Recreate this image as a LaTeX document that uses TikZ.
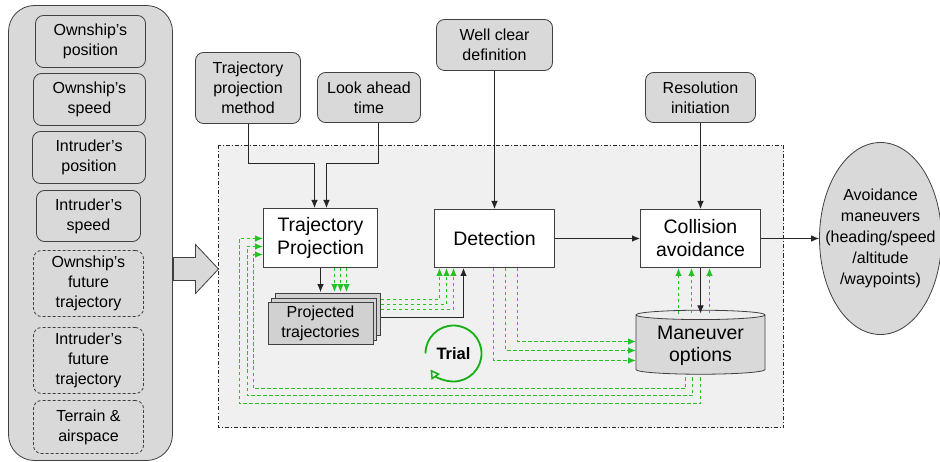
\documentclass[tikz,border=0pt]{standalone}
\usepackage{fontspec}
\setmainfont{Liberation Sans}
\usetikzlibrary{arrows.meta,shapes.geometric,shadows,calc}
\definecolor{boxgray}{RGB}{217,217,217}
\definecolor{areagray}{RGB}{240,240,240}
\definecolor{fbgreen}{RGB}{35,195,35}
\definecolor{loopgreen}{RGB}{20,175,20}
\tikzstyle{panel} = [draw=black!75, fill=boxgray, rounded corners=26pt, line width=0.8pt]
\tikzstyle{param} = [draw=black!75, fill=boxgray, rounded corners=8pt, line width=0.8pt, align=center, inner sep=1pt, font=\fontsize{16}{20}\selectfont]
\tikzstyle{future} = [param, dash pattern=on 3pt off 2pt]
\tikzstyle{block} = [draw=black!75, fill=white, line width=1pt, align=center, font=\fontsize{19.5}{23}\selectfont]
\tikzstyle{stack} = [draw=black!75, fill=black!18, line width=0.8pt, align=center, font=\fontsize{16}{20}\selectfont, double copy shadow={shadow xshift=3.5pt, shadow yshift=4.5pt}]
\tikzstyle{database} = [cylinder, shape border rotate=90, aspect=0.1, draw=black!75, line width=0.8pt, cylinder uses custom fill, cylinder body fill=boxgray, cylinder end fill=black!7, align=center, font=\fontsize{19.5}{22}\selectfont]
\tikzstyle{flow} = [-{Latex[length=8pt,width=6.5pt]}, draw=black!85, line width=0.8pt]
\tikzstyle{feedback} = [-{Latex[length=8pt,width=6.5pt]}, draw=fbgreen, line width=1pt, dash pattern=on 3.5pt off 2.5pt]

\begin{document}
\begin{tikzpicture}[x=1pt,y=-1pt]
\useasboundingbox (-0.5,-0.5) rectangle (939.5,461.5);

% inputs on the left
\node[panel, minimum width=164pt, minimum height=455pt] (inputs) at (90,232.5) {};
\node[param, minimum width=110pt, minimum height=52pt] (ownpos) at (90,41) {Ownship’s\\position};
\node[param, minimum width=112pt, minimum height=52pt] (ownspd) at (89,99) {Ownship’s\\speed};
\node[param, minimum width=113pt, minimum height=52pt] (intpos) at (88.5,157) {Intruder’s\\position};
\node[param, minimum width=104pt, minimum height=51pt] (intspd) at (88,215.5) {Intruder’s\\speed};
\node[future, minimum width=110pt, minimum height=66pt] (ownfut) at (88,283) {Ownship’s\\future\\trajectory};
\node[future, minimum width=110pt, minimum height=66pt] (intfut) at (88,360) {Intruder’s\\future\\trajectory};
\node[future, minimum width=110pt, minimum height=53pt] (terrain) at (88,426.5) {Terrain \&\\airspace};

\draw[draw=black!75, fill=boxgray, line width=0.8pt] (173,257) -- (195,257) -- (195,244) -- (218,268.5) -- (195,293) -- (195,280) -- (173,280) -- cycle;

% the detect and avoid loop
\draw[fill=areagray, draw=black!85, line width=0.8pt, dash pattern=on 4pt off 2pt on 1pt off 2pt] (218,145) rectangle (783,427);

\node[param, minimum width=105pt, minimum height=71pt] (tpm) at (247.5,87.5) {Trajectory\\projection\\method};
\node[param, minimum width=103pt, minimum height=50pt] (lat) at (368.5,97) {Look ahead\\time};
\node[param, minimum width=116pt, minimum height=51pt] (wcd) at (494,44.5) {Well clear\\definition};
\node[param, minimum width=110pt, minimum height=50pt] (resinit) at (700,97) {Resolution\\initiation};

\node[block, minimum width=114pt, minimum height=59pt] (tproj) at (320,237.5) {Trajectory\\Projection};
\node[block, minimum width=120pt, minimum height=58pt] (detect) at (494,238) {Detection};
\node[block, minimum width=120pt, minimum height=58pt] (collav) at (700,238) {Collision\\avoidance};
\node[stack, minimum width=105pt, minimum height=42pt] (proj) at (320,323) {Projected\\trajectories};
\node[database, minimum width=129pt, minimum height=64pt] (man) at (700,345) {Maneuver\\options};
\node[ellipse, draw=black!75, fill=boxgray, line width=0.8pt, minimum width=122pt, minimum height=192pt, inner xsep=-14pt, inner ysep=0pt, align=center, font=\fontsize{16}{21}\selectfont] (avoid) at (880,238) {Avoidance\\maneuvers\\(heading/speed\\/altitude\\/waypoints)};

\node[font=\fontsize{16.5}{20}\selectfont\bfseries] (trial) at (453,353) {Trial};
\draw[loopgreen, line width=1.8pt, -{Triangle[open,length=9pt,width=10pt,line width=1.5pt]}] ($(trial)+(180:28)$) arc[start angle=180, end angle=505, radius=28];

% black flow
\draw[flow] (tpm.south) -- ++(0,40) -| ($(tproj.north)+(-6,0)$);
\draw[flow] ($(lat.south)+(9.5,0)$) -- ++(0,41) -| ($(tproj.north)+(6,0)$);
\draw[flow] (wcd.south) -- (detect.north);
\draw[flow] (resinit.south) -- (collav.north);
\draw[flow] (tproj.south) -- ($(proj.north)+(0,-10)$);
\draw[flow] ($(proj.east)+(7.5,-6)$) -| ($(detect.south)+(-31,0)$);
\draw[flow] (detect.east) -- (collav.west);
\draw[flow] (collav.east) -- (avoid.west);
\draw[flow] (collav.south) -- ($(man.center)+(0,-32)$);

% green trial paths
\draw[feedback] ($(tproj.south)+(14,0)$) -- ($(proj.north)+(14,-10)$);
\draw[feedback] ($(tproj.south)+(20,0)$) -- ($(proj.north)+(20,-10)$);
\draw[feedback] ($(tproj.south)+(26,0)$) -- ($(proj.north)+(26,-10)$);
\draw[feedback] ($(proj.east)+(7.5,-24)$) -| ($(detect.south)+(-55,0)$);
\draw[feedback] ($(proj.east)+(7.5,-19)$) -| ($(detect.south)+(-48,0)$);
\draw[feedback] ($(proj.east)+(7.5,-14)$) -| ($(detect.south)+(-41,0)$);
\draw[feedback] ($(detect.south)+(-1,0)$) |- ($(man.center)+(-64.5,15)$);
\draw[feedback] ($(detect.south)+(11,0)$) |- ($(man.center)+(-64.5,5)$);
\draw[feedback] ($(detect.south)+(23,0)$) |- ($(man.center)+(-64.5,-4)$);
\draw[feedback] ($(man.center)+(-22,-31)$) -- ($(collav.south)+(-22,0)$);
\draw[feedback] ($(man.center)+(-9,-32)$) -- ($(collav.south)+(-9,0)$);
\draw[feedback] ($(man.center)+(9,-32)$) -- ($(collav.south)+(9,0)$);
\draw[feedback] ($(man.center)+(-15,32)$) -- ++(0,11) -| ($(tproj.west)+(-10,16.5)$) -- ($(tproj.west)+(0,16.5)$);
\draw[feedback] ($(man.center)+(-8,32)$) -- ++(0,18) -| ($(tproj.west)+(-16,8.5)$) -- ($(tproj.west)+(0,8.5)$);
\draw[feedback] ($(man.center)+(0,32)$) -- ++(0,26) -| ($(tproj.west)+(-24,0.5)$) -- ($(tproj.west)+(0,0.5)$);

\end{tikzpicture}
\end{document}
